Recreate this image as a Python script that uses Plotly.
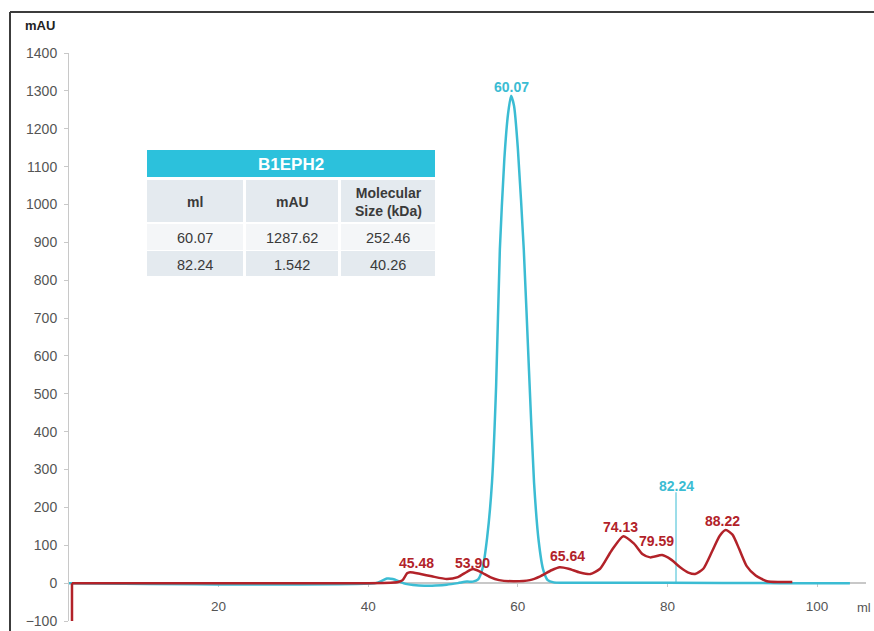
import plotly.graph_objects as go

# ---------------- data ----------------
blue_x = [0, 41, 41.8, 42.5, 43.3, 44.2, 45, 46, 47.5, 49, 50.5, 52, 53.2, 54.0, 54.7, 55.3, 55.9,
          56.55, 57.1, 57.6, 58.2, 58.7, 59.1, 59.5, 60.0, 60.8, 61.5, 62.17, 62.8, 63.4, 64.0,
          64.8, 66, 80, 95, 104.4]
blue_y = [0, 0, 6, 12, 11, 4, -2, -5, -7, -6, -4, 0, 4, 4, 10, 40, 120,
          266, 520, 881, 1120, 1240, 1287, 1260, 1150, 881, 560, 266, 110, 35, 8,
          2, 1, 1, 0, 0]

red_drop_x = [0.4, 0.4]
red_drop_y = [-100, 0]

red_x = [0.4, 10, 20, 30, 40, 43, 44.0, 44.6, 45.2, 45.6, 47, 48.5, 50.5, 52, 53.2, 54.0,
         55, 56.3, 57.5, 59.4, 61.6, 63, 64.5, 65.6, 66.8, 68.3, 69.7, 71, 72.5, 74.1, 75.5,
         76.7, 77.7, 79.3, 80.5, 81.7, 82.8, 83.7, 84.8, 86, 87.0, 87.8, 88.7, 89.6, 90.6,
         91.8, 93.3, 95, 96.7]
red_y = [0, 0, 0, 0, 0, 1, 3, 8, 26, 29, 24, 18, 11, 16, 30, 37,
         30, 16, 8, 5, 8, 18, 34, 42, 38, 28, 24, 38, 85, 124, 105,
         76, 68, 74, 62, 42, 28, 24, 38, 85, 125, 140, 128, 90, 45,
         20, 5, 3, 3]

red_labels = ["45.48", "53.90", "65.64", "74.13", "79.59", "88.22"]
red_label_x = [46.5, 54.0, 66.6, 73.7, 78.6, 87.4]
red_label_y = [53, 53, 71, 148, 111, 164]

blue_peak_label = "60.07"
blue_peak_label_x = 59.1
blue_peak_label_y = 1310

marker_label = "82.24"
marker_x = 81.15
marker_top = 240

table_title = "B1EPH2"
table_header = ["ml", "mAU", "Molecular<br>Size (kDa)"]
table_rows = [["60.07", "1287.62", "252.46"],
              ["82.24", "1.542", "40.26"]]

x_ticks = [20, 40, 60, 80, 100]
y_ticks = list(range(-100, 1401, 100))

# ---------------- style ----------------
BLUE = "#3bbcd3"
RED = "#b22229"
FONT = "Liberation Sans, Arial, sans-serif"
W, H = 874, 631
ML, MR, MT, MB = 69, 8, 53, 10
PW, PH = W - ML - MR, H - MT - MB


def px(x):
    return (x - ML) / PW


def py(y):
    return (H - MB - y) / PH


def ann(x, y, text, size, color, xanchor="center", yanchor="middle", **kw):
    return dict(x=x, y=y, text=text, showarrow=False, xanchor=xanchor, yanchor=yanchor,
                font=dict(family=FONT, size=size, color=color), **kw)


fig = go.Figure()
fig.add_trace(go.Scatter(x=blue_x, y=blue_y, mode="lines",
                         line=dict(color=BLUE, width=2.5, shape="spline", smoothing=0.6),
                         hoverinfo="skip", showlegend=False))
fig.add_trace(go.Scatter(x=[marker_x, marker_x], y=[0, marker_top], mode="lines",
                         line=dict(color=BLUE, width=1), hoverinfo="skip", showlegend=False))
fig.add_trace(go.Scatter(x=red_drop_x, y=red_drop_y, mode="lines",
                         line=dict(color=RED, width=2.5), hoverinfo="skip", showlegend=False))
fig.add_trace(go.Scatter(x=red_x, y=red_y, mode="lines",
                         line=dict(color=RED, width=2.5, shape="spline", smoothing=0.6),
                         hoverinfo="skip", showlegend=False))

annotations = []
for t, x, y in zip(red_labels, red_label_x, red_label_y):
    annotations.append(ann(x, y, "<b>%s</b>" % t, 14, RED, xref="x", yref="y"))
annotations.append(ann(blue_peak_label_x, blue_peak_label_y, "<b>%s</b>" % blue_peak_label, 14, BLUE,
                       xref="x", yref="y"))
annotations.append(ann(marker_x, marker_top + 16, "<b>%s</b>" % marker_label, 14, BLUE, xref="x", yref="y"))
annotations.append(ann(px(40), py(25), "<b>mAU</b>", 13, "#222", xref="paper", yref="paper"))
annotations.append(ann(px(855), py(607), "ml", 13, "#555", xanchor="left", xref="paper", yref="paper"))

shapes = []
# table
col_edges = [(147, 243), (246, 338), (341, 435)]
shapes.append(dict(type="rect", xref="paper", yref="paper", x0=px(147), x1=px(435), y0=py(177), y1=py(150),
                   fillcolor="#2cc1dc", line=dict(width=0)))
annotations.append(ann(px(291), py(164), "<b>%s</b>" % table_title, 17, "white", xref="paper", yref="paper"))
row_bands = [(180, 222, "#e4eaef"), (224, 250, "#f4f6f8"), (251, 276, "#e4eaef")]
all_rows = [table_header] + table_rows
for ri, (ya, yb, col) in enumerate(row_bands):
    for ci, (xa, xb) in enumerate(col_edges):
        shapes.append(dict(type="rect", xref="paper", yref="paper", x0=px(xa), x1=px(xb), y0=py(yb), y1=py(ya),
                           fillcolor=col, line=dict(width=0)))
        txt = all_rows[ri][ci]
        if ri == 0:
            txt = "<b>%s</b>" % txt
        annotations.append(ann(px((xa + xb) / 2), py((ya + yb) / 2 + 1), txt, 14 if ri == 0 else 14.5, "#3a3a3a",
                               xref="paper", yref="paper"))

# outer frame (top and left)
shapes.append(dict(type="line", xref="paper", yref="paper", x0=px(10), x1=px(W + 5), y0=py(12), y1=py(12),
                   line=dict(color="#3c3c3c", width=2)))
shapes.append(dict(type="line", xref="paper", yref="paper", x0=px(10), x1=px(10), y0=py(12), y1=py(H + 5),
                   line=dict(color="#3c3c3c", width=2)))

fig.update_layout(
    width=W, height=H,
    margin=dict(l=ML, r=MR, t=MT, b=MB, autoexpand=False),
    paper_bgcolor="white", plot_bgcolor="white",
    showlegend=False,
    annotations=annotations,
    shapes=shapes,
    font=dict(family=FONT),
    xaxis=dict(range=[0, (W - ML - MR) / 7.48], tickvals=x_ticks, ticktext=[str(v) for v in x_ticks],
               anchor="free", position=100 / 1500, showline=True, linecolor="#c8c8c8", linewidth=1.5,
               ticks="outside", ticklen=3, tickcolor="#c8c8c8", showgrid=False, zeroline=False,
               automargin=False, layer="below traces",
               ticklabelstandoff=8, tickfont=dict(family=FONT, size=13.5, color="#555")),
    yaxis=dict(range=[-100, 1400], tickvals=y_ticks, showline=True, linecolor="#c8c8c8", linewidth=1,
               ticks="outside", ticklen=4, tickcolor="#c8c8c8", showgrid=False, zeroline=False,
               automargin=False, layer="below traces",
               ticklabelstandoff=4, tickfont=dict(family=FONT, size=14, color="#555")),
)

fig.write_html("out.html", config={"displayModeBar": False},
               post_script="document.body.style.margin='0';document.body.style.overflow='hidden';")
